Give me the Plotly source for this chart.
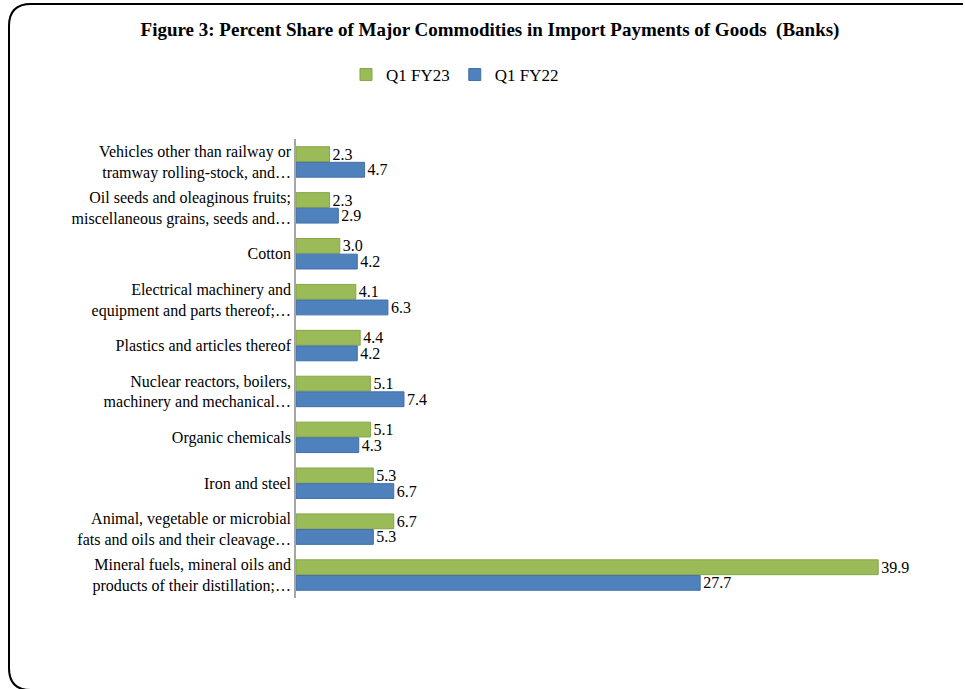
import plotly.graph_objects as go

# categories, top to bottom as in the figure
categories = [
    "Vehicles other than railway or<br>tramway rolling-stock, and…",
    "Oil seeds and oleaginous fruits;<br>miscellaneous grains, seeds and…",
    "Cotton",
    "Electrical machinery and<br>equipment and parts thereof;…",
    "Plastics and articles thereof",
    "Nuclear reactors, boilers,<br>machinery and mechanical…",
    "Organic chemicals",
    "Iron and steel",
    "Animal, vegetable or microbial<br>fats and oils and their cleavage…",
    "Mineral fuels, mineral oils and<br>products of their distillation;…",
]
q1_fy23 = [2.3, 2.3, 3.0, 4.1, 4.4, 5.1, 5.1, 5.3, 6.7, 39.9]
q1_fy22 = [4.7, 2.9, 4.2, 6.3, 4.2, 7.4, 4.3, 6.7, 5.3, 27.7]

W, H = 965, 689
L, R, T, B = 296, 27, 139, 91
FONT = "Liberation Serif"

fig = go.Figure()

fig.add_trace(go.Bar(
    y=categories, x=q1_fy23, orientation="h", name="Q1 FY23",
    marker=dict(color="#9BBB59", line=dict(color="#86A548", width=1)),
    text=[f"{v:.1f}" for v in q1_fy23], textposition="outside",
    constraintext="none",
    textfont=dict(family=FONT, size=16, color="black"),
))
fig.add_trace(go.Bar(
    y=categories, x=q1_fy22, orientation="h", name="Q1 FY22",
    marker=dict(color="#4F81BD", line=dict(color="#416FA6", width=1)),
    text=[f"{v:.1f}" for v in q1_fy22], textposition="outside",
    constraintext="none",
    textfont=dict(family=FONT, size=16, color="black"),
))

# rounded chart border, in paper coordinates
pw, ph = W - L - R, H - T - B
def px(x):
    return (x - L) / pw
def py(y):
    return 1 - (y - T) / ph
x0, y0, x1, y1, r = 9, 4, 963, 690, 22
path = (f"M {px(x1)},{py(y0)} L {px(x0 + r)},{py(y0)} "
        f"Q {px(x0)},{py(y0)} {px(x0)},{py(y0 + r)} "
        f"L {px(x0)},{py(y1 - r)} Q {px(x0)},{py(y1)} {px(x0 + r)},{py(y1)} "
        f"L {px(x1)},{py(y1)}")
fig.add_shape(type="path", xref="paper", yref="paper", path=path,
              line=dict(color="black", width=2))

fig.update_layout(
    width=W, height=H,
    margin=dict(l=L, r=R, t=T, b=B),
    paper_bgcolor="white", plot_bgcolor="white",
    barmode="group", bargap=0.32, bargroupgap=0.05,
    font=dict(family=FONT, size=16, color="black"),
    title=dict(text="<b>Figure 3: Percent Share of Major Commodities in Import Payments of Goods  (Banks)</b>",
               x=490 / W, xref="container", xanchor="center", y=1 - 29 / H, yanchor="middle",
               font=dict(family=FONT, size=19, color="black")),
    legend=dict(orientation="h", x=(455 - L) / pw, xanchor="center",
                y=py(75), yanchor="middle",
                font=dict(family=FONT, size=17, color="black"),
                itemwidth=30, traceorder="normal"),
    xaxis=dict(range=[0, 44], showgrid=False, zeroline=False,
               showticklabels=False, showline=False),
    yaxis=dict(autorange="reversed", showgrid=False, showline=True,
               linecolor="#A6A6A6", linewidth=1.5, ticks="",
               tickfont=dict(family=FONT, size=16, color="black")),
)

fig.write_html("out.html", config={"displayModeBar": False},
               post_script="document.body.style.margin='0';")
